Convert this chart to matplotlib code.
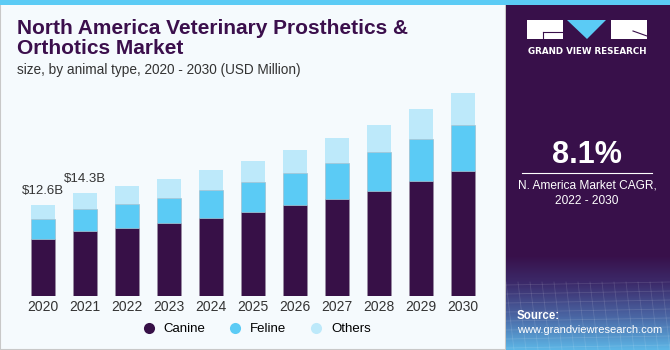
import numpy as np
import matplotlib
matplotlib.use("Agg")
from matplotlib import pyplot as plt
from matplotlib.lines import Line2D
from matplotlib.patches import Rectangle, Polygon

years = ["2020", "2021", "2022", "2023", "2024", "2025", "2026", "2027", "2028", "2029", "2030"]
canine = [7.93, 9.00, 9.46, 10.07, 10.84, 11.63, 12.60, 13.43, 14.58, 15.88, 17.35]
feline = [2.73, 3.05, 3.32, 3.54, 3.88, 4.15, 4.43, 4.94, 5.40, 5.91, 6.37]
others = [1.94, 2.25, 2.45, 2.63, 2.77, 2.95, 3.18, 3.50, 3.74, 4.06, 4.39]
totalLabels = {0: "$12.6B", 1: "$14.3B"}

purple = "#371047"
blue = "#5BCBF5"
lightBlue = "#BDE9FA"
bgColor = "#F5FAFD"
textColor = "#333333"
font = "Liberation Sans"

W, H = 670, 350
fig = plt.figure(figsize=(W / 100, H / 100), dpi=100)
fig.patch.set_facecolor(bgColor)

def px(x, y):
    # pixel coords from top-left -> figure fraction
    return x / W, 1 - y / H

# background panel pieces
bg = fig.add_axes([0, 0, 1, 1])
bg.set_xlim(0, W)
bg.set_ylim(H, 0)
bg.axis("off")
bg.add_patch(Rectangle((0, 0), 506, H, facecolor=bgColor, edgecolor="#C8C8C8", linewidth=1.5))
bg.add_patch(Rectangle((506, 0), W - 506, H, facecolor="#38104A", edgecolor="none"))
# gradient at the bottom of the side panel
grad = np.linspace(0, 1, 100).reshape(-1, 1)
cmapSide = matplotlib.colors.LinearSegmentedColormap.from_list(
    "side", [(0, "#38104A"), (0.3, "#3C2B6B"), (0.65, "#4A66A4"), (1, "#5DB6E6")])
bg.imshow(grad, extent=[506, W, H, 255], cmap=cmapSide, aspect="auto", zorder=1)
# faint grid lines hinting the wireframe
for gy in np.arange(285, H, 9):
    bg.plot([506, W], [gy, gy - 3], color="white", alpha=0.12, linewidth=0.6, zorder=2)
for gx in np.arange(506, W, 12):
    bg.plot([gx, gx + 8], [282, H], color="white", alpha=0.12, linewidth=0.6, zorder=2)
bg.set_xlim(0, W)
bg.set_ylim(H, 0)
bg.add_patch(Rectangle((0, 0), W, 5, facecolor="#5BCBF5", edgecolor="none", zorder=3))

# logo
bg.add_patch(Rectangle((527, 20), 36, 19, facecolor="white", edgecolor="none", zorder=3))
bg.add_patch(Polygon([[567, 20], [606, 20], [587, 39]], closed=True, facecolor=blue, edgecolor="none", zorder=3))
bg.add_patch(Rectangle((611, 20), 36, 19, facecolor="white", edgecolor="none", zorder=3))
bg.plot([543, 563], [32, 32], color="#38104A", linewidth=0.8, zorder=4)
bg.plot([543, 543], [32, 39], color="#38104A", linewidth=0.8, zorder=4)
bg.plot([633, 647], [31, 36], color="#38104A", linewidth=0.8, zorder=4)
bg.text(587, 51, "GRAND VIEW RESEARCH", color="white", fontsize=6.3, fontweight="bold",
        ha="center", va="center", family="DejaVu Sans", zorder=4)

bg.text(587, 155, "8.1%", color="white", fontsize=22, fontweight="bold", ha="center", va="center",
        family=font, zorder=4)
bg.plot([522, 652], [173, 173], color="white", linewidth=0.8, zorder=4)
bg.text(587, 186, "N. America Market CAGR,", color="white", fontsize=8.6, ha="center", va="center",
        family=font, zorder=4)
bg.text(587, 201, "2022 - 2030", color="white", fontsize=8.6, ha="center", va="center",
        family=font, zorder=4)
bg.text(517, 316, "Source:", color="white", fontsize=8.3, fontweight="bold", ha="left", va="center",
        family=font, zorder=4)
bg.text(517, 330, "www.grandviewresearch.com", color="white", fontsize=8, ha="left", va="center",
        family=font, zorder=4)

# titles
bg.text(17, 28, "North America Veterinary Prosthetics &", color="#3B0F4C", fontsize=15,
        fontweight="bold", ha="left", va="center", family=font)
bg.text(17, 48, "Orthotics Market", color="#3B0F4C", fontsize=15,
        fontweight="bold", ha="left", va="center", family=font)
bg.text(17, 70, "size, by animal type, 2020 - 2030 (USD Million)", color=textColor, fontsize=9.8,
        ha="left", va="center", family=font)

# main chart
axL, axR, axTop, axBase = 22, 484, 85, 296
ax = fig.add_axes([axL / W, (H - axBase) / H, (axR - axL) / W, (axBase - axTop) / H])
ax.patch.set_alpha(0)
x = np.arange(len(years))
barW = 24 / 42
ax.bar(x, canine, width=barW, color=purple, edgecolor="#9A8FA3", linewidth=0.4)
ax.bar(x, feline, width=barW, bottom=canine, color=blue, edgecolor="#9AB8C8", linewidth=0.4)
bottom2 = np.array(canine) + np.array(feline)
ax.bar(x, others, width=barW, bottom=bottom2, color=lightBlue, edgecolor="none")
totals = bottom2 + np.array(others)
for i, lab in totalLabels.items():
    ax.text(x[i], totals[i] + 1.1, lab, ha="center", va="bottom", fontsize=9.5, color=textColor,
            family=font)
ax.set_xlim(-0.5, len(years) - 0.5)
ax.set_ylim(0, (axBase - axTop) * 12.6 / 91)
ax.set_xticks(x)
ax.set_xticklabels(years, fontsize=10, color=textColor, family=font)
ax.tick_params(axis="x", length=0, pad=3)
ax.set_yticks([])
for s in ax.spines.values():
    s.set_visible(False)

handles = [Line2D([], [], marker="o", linestyle="none", markersize=8, color=c, markeredgewidth=0)
           for c in [purple, blue, lightBlue]]
fig.legend(handles, ["Canine", "Feline", "Others"], loc="center", bbox_to_anchor=px(253, 329),
           ncol=3, frameon=False, handletextpad=0.1, columnspacing=1.3,
           prop={"family": font, "size": 9.5})

fig.savefig("out.png", dpi=100, facecolor=fig.get_facecolor())
